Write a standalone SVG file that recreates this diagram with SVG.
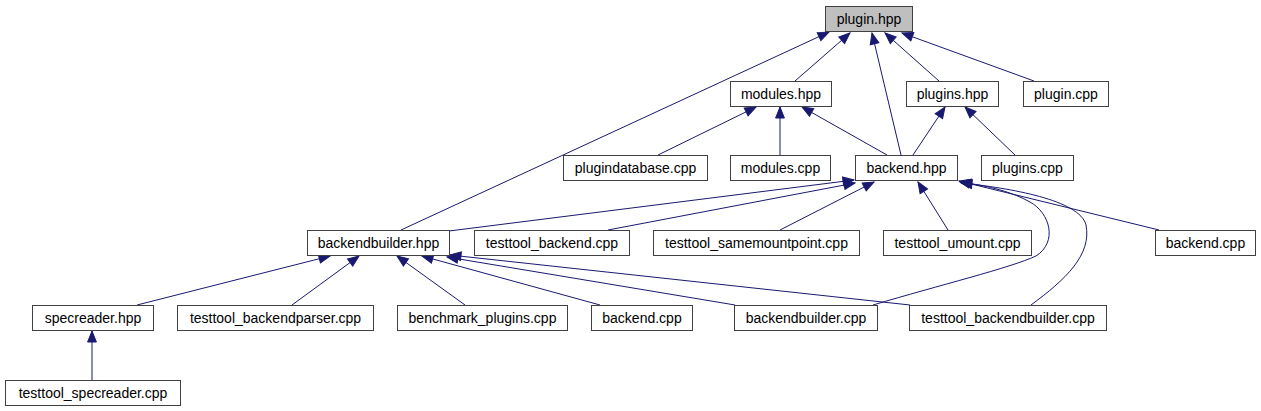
<svg xmlns="http://www.w3.org/2000/svg" width="1261" height="411" viewBox="0 0 1261 411">
<defs>
<marker id="ah" markerUnits="userSpaceOnUse" markerWidth="14" markerHeight="12" refX="11" refY="5" orient="auto" overflow="visible">
<path d="M0,0.6 L11,5 L0,9.4 z" fill="#191970" stroke="#191970" stroke-width="1"/>
</marker>
</defs>
<style>
.n rect{fill:#ffffff;stroke:#404040;stroke-width:1}
.n text{font-family:"Liberation Sans",Arial,sans-serif;font-size:14px;fill:#000000;text-anchor:middle}
#plugin_hpp rect{fill:#bfbfbf}
.e path{fill:none;stroke:#191970;stroke-width:1;marker-end:url(#ah)}
</style>
<rect width="1261" height="411" fill="#ffffff"/>
<g id="connectors" class="e">
<path d="M401,230 L829,32"/>
<path d="M795,81 L850,33"/>
<path d="M901,155 L872,33"/>
<path d="M939,81 L885,33"/>
<path d="M1034,81 L902,33"/>
<path d="M658,155 L756,107"/>
<path d="M780,155 L780,107"/>
<path d="M887,155 L802,107"/>
<path d="M913,155 L945,107"/>
<path d="M1015,155 L965,107"/>
<path d="M449,231 L854,180"/>
<path d="M608,230 L855,183"/>
<path d="M780,230 L874,182"/>
<path d="M948,230 L918,182"/>
<path d="M1159,230 L959,181"/>
<path d="M873,305 C940,285 1010,268 1036,256 C1058,242 1050,213 1030,202 C1012,192 990,186 960,182"/>
<path d="M1031,305 C1065,280 1092,255 1086,225 C1080,200 1010,188 961,183"/>
<path d="M137,305 L330,256"/>
<path d="M292,305 L359,256"/>
<path d="M465,305 L397,256"/>
<path d="M600,305 L422,256"/>
<path d="M735,305 L447,257"/>
<path d="M910,305 L450,255"/>
<path d="M92,380 L92,331"/>
</g>
<g id="plugin_hpp" class="n"><rect x="825.5" y="6.5" width="87" height="25"/><text x="869" y="24">plugin.hpp</text></g>
<g id="modules_hpp" class="n"><rect x="730.5" y="81.5" width="101" height="25"/><text x="781" y="99">modules.hpp</text></g>
<g id="plugins_hpp" class="n"><rect x="906.5" y="81.5" width="92" height="25"/><text x="952.5" y="99">plugins.hpp</text></g>
<g id="plugin_cpp" class="n"><rect x="1023.5" y="81.5" width="85" height="25"/><text x="1066" y="99">plugin.cpp</text></g>
<g id="plugindatabase_cpp" class="n"><rect x="563.5" y="155.5" width="144" height="25"/><text x="635.5" y="173">plugindatabase.cpp</text></g>
<g id="modules_cpp" class="n"><rect x="730.5" y="155.5" width="100" height="25"/><text x="780.5" y="173">modules.cpp</text></g>
<g id="backend_hpp" class="n"><rect x="855.5" y="155.5" width="102" height="25"/><text x="906.5" y="173">backend.hpp</text></g>
<g id="plugins_cpp" class="n"><rect x="981.5" y="155.5" width="92" height="25"/><text x="1027.5" y="173">plugins.cpp</text></g>
<g id="backendbuilder_hpp" class="n"><rect x="307.5" y="230.5" width="142" height="25"/><text x="378.5" y="248">backendbuilder.hpp</text></g>
<g id="testtool_backend_cpp" class="n"><rect x="474.5" y="230.5" width="155" height="25"/><text x="552" y="248">testtool_backend.cpp</text></g>
<g id="testtool_samemountpoint_cpp" class="n"><rect x="653.5" y="230.5" width="206" height="25"/><text x="756.5" y="248">testtool_samemountpoint.cpp</text></g>
<g id="testtool_umount_cpp" class="n"><rect x="883.5" y="230.5" width="148" height="25"/><text x="957.5" y="248">testtool_umount.cpp</text></g>
<g id="backend_cpp_r" class="n"><rect x="1155.5" y="230.5" width="100" height="25"/><text x="1205.5" y="248">backend.cpp</text></g>
<g id="specreader_hpp" class="n"><rect x="32.5" y="305.5" width="121" height="25"/><text x="93" y="323">specreader.hpp</text></g>
<g id="testtool_backendparser_cpp" class="n"><rect x="177.5" y="305.5" width="196" height="25"/><text x="275.5" y="323">testtool_backendparser.cpp</text></g>
<g id="benchmark_plugins_cpp" class="n"><rect x="397.5" y="305.5" width="170" height="25"/><text x="482.5" y="323">benchmark_plugins.cpp</text></g>
<g id="backend_cpp_m" class="n"><rect x="591.5" y="305.5" width="101" height="25"/><text x="642" y="323">backend.cpp</text></g>
<g id="backendbuilder_cpp" class="n"><rect x="734.5" y="305.5" width="143" height="25"/><text x="806" y="323">backendbuilder.cpp</text></g>
<g id="testtool_backendbuilder_cpp" class="n"><rect x="909.5" y="305.5" width="197" height="25"/><text x="1008" y="323">testtool_backendbuilder.cpp</text></g>
<g id="testtool_specreader_cpp" class="n"><rect x="5.5" y="380.5" width="175" height="25"/><text x="93" y="398">testtool_specreader.cpp</text></g>
</svg>
